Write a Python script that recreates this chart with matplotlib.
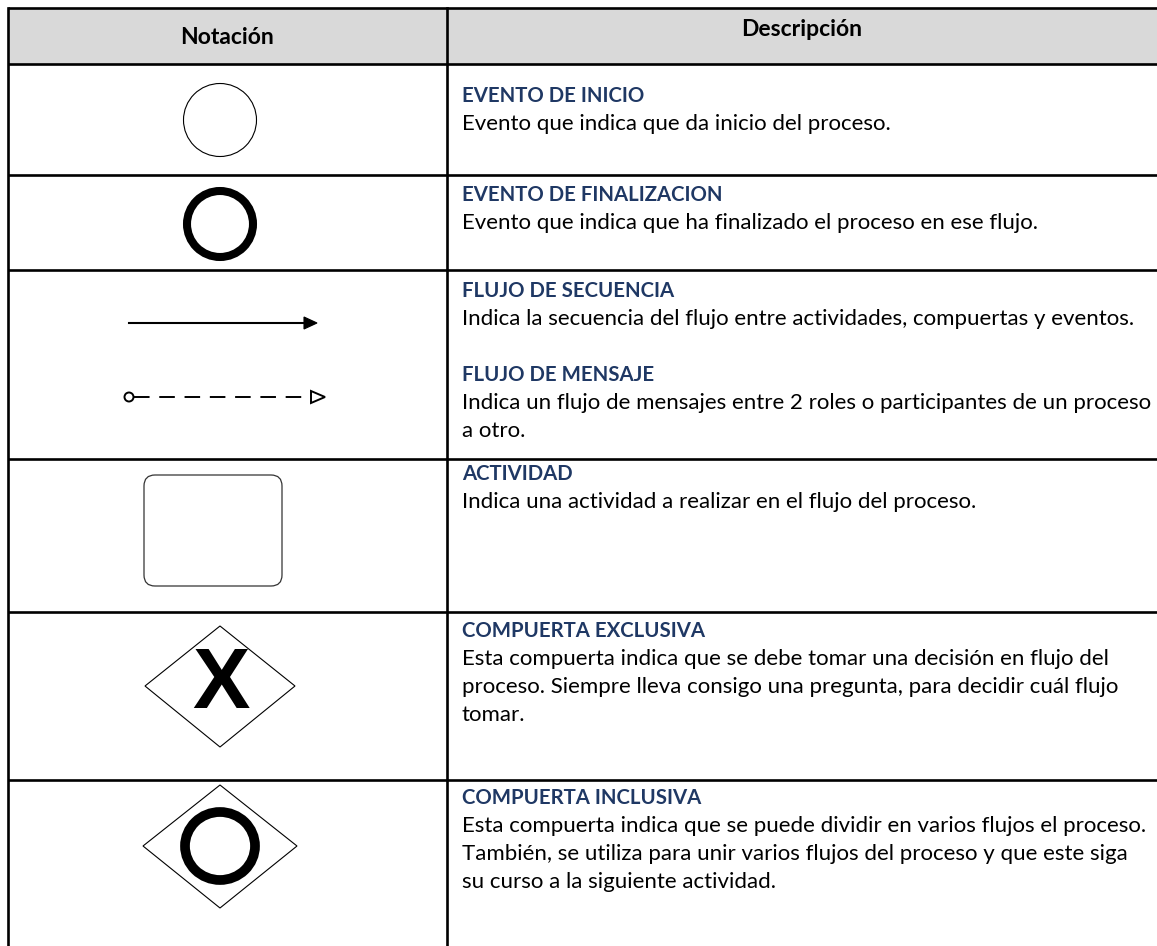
import numpy as np
import matplotlib.pyplot as plt
from matplotlib.patches import Circle, Ellipse, Polygon, FancyBboxPatch, Rectangle

# table content
headers = ["Notación", "Descripción"]
titles = ["EVENTO DE INICIO", "EVENTO DE FINALIZACION", "FLUJO DE SECUENCIA",
          "FLUJO DE MENSAJE", "ACTIVIDAD", "COMPUERTA EXCLUSIVA", "COMPUERTA INCLUSIVA"]
bodies = [
    ["Evento que indica que da inicio del proceso."],
    ["Evento que indica que ha finalizado el proceso en ese flujo."],
    ["Indica la secuencia del flujo entre actividades, compuertas y eventos."],
    ["Indica un flujo de mensajes entre 2 roles o participantes de un proceso",
     "a otro."],
    ["Indica una actividad a realizar en el flujo del proceso."],
    ["Esta compuerta indica que se debe tomar una decisión en flujo del",
     "proceso. Siempre lleva consigo una pregunta, para decidir cuál flujo",
     "tomar."],
    ["Esta compuerta indica que se puede dividir en varios flujos el proceso.",
     "También, se utiliza para unir varios flujos del proceso y que este siga",
     "su curso a la siguiente actividad."],
]
title_y = [96, 195, 291, 375, 474, 631, 798]

W, H = 1157, 946
fig = plt.figure(figsize=(W / 100, H / 100), dpi=100)
ax = fig.add_axes([0, 0, 1, 1])
ax.set_xlim(0, W)
ax.set_ylim(H, 0)
ax.axis('off')

font = 'Lato'
navy = '#1F3864'
lw_grid = 1.9
step = 28

# header background
ax.add_patch(Rectangle((8, 8), W, 56, facecolor='#D9D9D9', edgecolor='none'))

# grid lines
row_lines = [8, 64, 175, 270, 459, 612, 780]
for y in row_lines:
    ax.plot([8, W], [y, y], color='black', lw=lw_grid, solid_capstyle='butt')
ax.plot([8, 8], [8, H], color='black', lw=lw_grid)
ax.plot([447, 447], [8, H], color='black', lw=lw_grid)

# header text
ax.text(227, 37, headers[0], ha='center', va='center', fontsize=16.5,
        fontweight='bold', family=font)
ax.text(802, 29, headers[1], ha='center', va='center', fontsize=16.5,
        fontweight='bold', family=font)

# descriptions
for t, lines, y in zip(titles, bodies, title_y):
    ax.text(462, y, t, ha='left', va='center', fontsize=14.7, fontweight='bold',
            color=navy, family=font)
    for i, line in enumerate(lines):
        ax.text(462, y + step * (i + 1), line, ha='left', va='center',
                fontsize=16, color='black', family=font)

# start event
ax.add_patch(Circle((220, 120), 36.5, facecolor='none', edgecolor='black', lw=0.8))
# end event
ax.add_patch(Circle((220, 224), 33, facecolor='none', edgecolor='black', lw=5.8))

# sequence flow
ax.plot([129, 305], [323, 323], color='black', lw=1.5)
ax.add_patch(Polygon([[304, 317], [317, 323], [304, 329]], closed=True,
                     facecolor='black', edgecolor='black', lw=0.8))
# message flow
ax.plot([134, 311], [397, 397], color='black', lw=1.4, dashes=(8, 5))
ax.add_patch(Circle((129, 397), 4.5, facecolor='white', edgecolor='black', lw=1.4))
ax.add_patch(Polygon([[311, 391], [325, 397], [311, 403]], closed=True,
                     facecolor='white', edgecolor='black', lw=1.4))

# activity
ax.add_patch(FancyBboxPatch((144, 475), 138, 111, boxstyle='round,pad=0,rounding_size=11',
                            facecolor='none', edgecolor='#333333', lw=0.9))

# exclusive gateway
ax.add_patch(Polygon([[145, 686], [220, 626], [295, 686], [220, 747]], closed=True,
                     facecolor='none', edgecolor='black', lw=0.8))
ax.text(221, 686, "X", ha='center', va='center', fontsize=62, fontweight='bold',
        family='Liberation Sans')

# inclusive gateway
ax.add_patch(Polygon([[143, 846], [220, 785], [297, 846], [220, 908]], closed=True,
                     facecolor='none', edgecolor='black', lw=0.8))
ax.add_patch(Ellipse((220, 846), 70, 68, facecolor='none', edgecolor='black', lw=7))

fig.savefig('out.png', dpi=100)
